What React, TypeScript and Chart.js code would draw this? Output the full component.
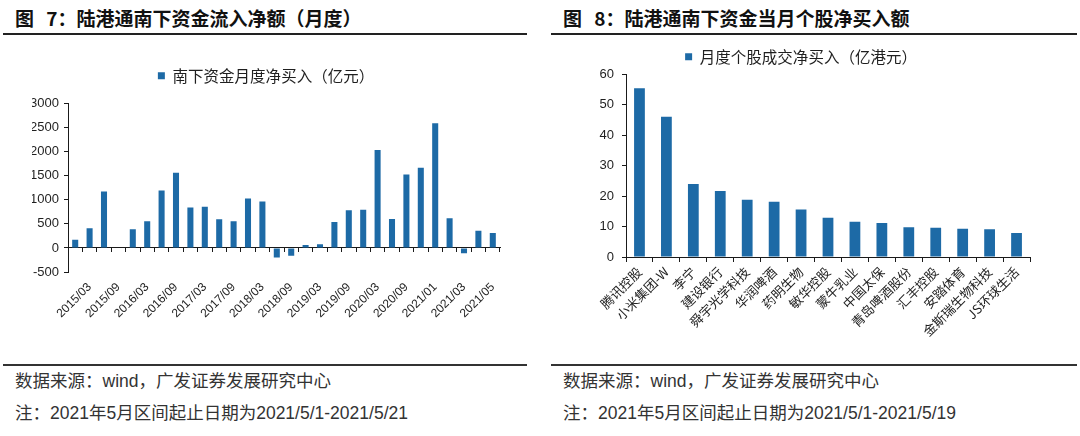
import React, { useEffect, useRef } from 'react';
import { Chart, registerables } from 'chart.js';

Chart.register(...registerables);

// ---------- data ----------
const flowPeriods = [
  '2014/12', '2015/03', '2015/06', '2015/09', '2015/12', '2016/03', '2016/06', '2016/09',
  '2016/12', '2017/03', '2017/06', '2017/09', '2017/12', '2018/03', '2018/06', '2018/09',
  '2018/12', '2019/03', '2019/06', '2019/09', '2019/12', '2020/03', '2020/06', '2020/09',
  '2020/12', '2021/01', '2021/02', '2021/03', '2021/04', '2021/05',
];
const flowValues = [
  171, 411, 1171, 0, 390, 555, 1192, 1562,
  842, 856, 596, 555, 1027, 966, -199, -164,
  62, 75, 541, 781, 795, 2034, 603, 1527,
  1664, 2589, 616, -110, 356, 308,
];
const flowLegend = '南下资金月度净买入（亿元）';
const flowYTicks = [-500, 0, 500, 1000, 1500, 2000, 2500, 3000];

const stockNames = [
  '腾讯控股', '小米集团-W', '李宁', '建设银行', '舜宇光学科技', '华润啤酒', '药明生物', '敏华控股',
  '蒙牛乳业', '中国太保', '青岛啤酒股份', '汇丰控股', '安踏体育', '金斯瑞生物科技', 'JS环球生活',
];
const stockValues = [55.5, 46.1, 24.0, 21.7, 18.8, 18.2, 15.6, 12.9, 11.6, 11.2, 9.8, 9.6, 9.3, 9.1, 7.9];
const stockLegend = '月度个股成交净买入（亿港元）';
const stockYTicks = [0, 10, 20, 30, 40, 50, 60];

const title7 = '图 7：陆港通南下资金流入净额（月度）';
const title8 = '图 8：陆港通南下资金当月个股净买入额';
const sourceText = '数据来源：wind，广发证券发展研究中心';
const note7 = '注：2021年5月区间起止日期为2021/5/1-2021/5/21';
const note8 = '注：2021年5月区间起止日期为2021/5/1-2021/5/19';

// ---------- style ----------
const BLUE = '#1D6AA6';
const AXIS = '#1a1a1a';
const TEXT = '#1f1f1f';
const LATIN = "'Liberation Sans', 'Noto Sans CJK SC', sans-serif";
const CJK = "'Noto Sans CJK SC', 'Liberation Sans', sans-serif";

const legendSpacer = (extra: number) => ({
  id: 'legendSpacer',
  beforeInit(chart: any) {
    const orig = chart.legend.fit;
    chart.legend.fit = function fit() {
      orig.call(this);
      this.height += extra;
    };
  },
});

function FlowChart() {
  const ref = useRef<HTMLCanvasElement>(null);
  useEffect(() => {
    if (!ref.current) return;
    const chart = new Chart(ref.current, {
      type: 'bar',
      data: {
        labels: flowPeriods,
        datasets: [
          {
            label: flowLegend,
            data: flowValues,
            backgroundColor: BLUE,
            borderWidth: 0,
            barPercentage: 0.42,
            categoryPercentage: 1,
            xAxisID: 'x',
            yAxisID: 'y',
          },
        ],
      },
      options: {
        animation: false,
        responsive: false,
        maintainAspectRatio: false,
        layout: { padding: { left: 32, right: 50, top: 0, bottom: 0 } },
        plugins: {
          legend: {
            position: 'top',
            labels: {
              boxWidth: 7,
              boxHeight: 7,
              padding: 10,
              color: TEXT,
              font: { family: CJK, size: 15.5 },
            },
          },
          tooltip: { enabled: false },
        },
        scales: {
          x: {
            type: 'category',
            position: 'bottom',
            offset: true,
            grid: { display: false, drawTicks: false },
            border: { display: false },
            ticks: {
              autoSkip: false,
              minRotation: 45,
              maxRotation: 45,
              padding: 8,
              color: TEXT,
              font: { family: LATIN, size: 12 },
              callback: (_v: any, i: number) => (i % 2 === 1 ? flowPeriods[i] : ''),
            },
            afterFit: (s: any) => {
              s.height = 50;
            },
          },
          x0: {
            type: 'category',
            position: { y: 0 },
            offset: true,
            grid: { offset: true, drawOnChartArea: false, drawTicks: true, tickLength: 4, color: AXIS },
            border: { display: true, color: AXIS, width: 1 },
            ticks: { display: false },
          },
          y: {
            type: 'linear',
            min: flowYTicks[0],
            max: flowYTicks[flowYTicks.length - 1],
            afterBuildTicks: (s: any) => {
              s.ticks = flowYTicks.map((v) => ({ value: v }));
            },
            grid: { drawOnChartArea: false, tickLength: 4, color: AXIS },
            border: { color: AXIS, width: 1 },
            ticks: {
              padding: 5,
              color: TEXT,
              font: { family: LATIN, size: 13 },
              callback: (v: any) => String(v),
            },
            afterFit: (s: any) => {
              s.width = 36;
            },
          },
        },
      } as any,
      plugins: [legendSpacer(10)],
    });
    return () => chart.destroy();
  }, []);
  return (
    <canvas
      ref={ref}
      width={550}
      height={264}
      style={{ position: 'absolute', left: 0, top: 58, width: 550, height: 264 }}
    />
  );
}

function StockChart() {
  const ref = useRef<HTMLCanvasElement>(null);
  useEffect(() => {
    if (!ref.current) return;
    const chart = new Chart(ref.current, {
      type: 'bar',
      data: {
        labels: stockNames,
        datasets: [
          {
            label: stockLegend,
            data: stockValues,
            backgroundColor: BLUE,
            borderWidth: 0,
            barPercentage: 0.4,
            categoryPercentage: 1,
          },
        ],
      },
      options: {
        animation: false,
        responsive: false,
        maintainAspectRatio: false,
        layout: { padding: { left: 12, right: 34, top: 0, bottom: 0 } },
        plugins: {
          legend: {
            position: 'top',
            labels: {
              boxWidth: 7,
              boxHeight: 7,
              padding: 10,
              color: TEXT,
              font: { family: CJK, size: 15.5 },
            },
          },
          tooltip: { enabled: false },
        },
        scales: {
          x: {
            type: 'category',
            offset: true,
            grid: { offset: true, drawOnChartArea: false, drawTicks: true, tickLength: 5, color: AXIS },
            border: { color: AXIS, width: 1 },
            ticks: {
              autoSkip: false,
              minRotation: 45,
              maxRotation: 45,
              padding: 2,
              color: TEXT,
              font: { family: CJK, size: 13 },
            },
            afterFit: (s: any) => {
              s.height = 90;
            },
          },
          y: {
            type: 'linear',
            min: stockYTicks[0],
            max: stockYTicks[stockYTicks.length - 1],
            afterBuildTicks: (s: any) => {
              s.ticks = stockYTicks.map((v) => ({ value: v }));
            },
            grid: { drawOnChartArea: false, tickLength: 4, color: AXIS },
            border: { color: AXIS, width: 1 },
            ticks: { padding: 8, color: TEXT, font: { family: LATIN, size: 13 } },
            afterFit: (s: any) => {
              s.width = 54;
            },
          },
        },
      } as any,
    });
    return () => chart.destroy();
  }, []);
  return (
    <canvas
      ref={ref}
      width={504}
      height={308}
      style={{ position: 'absolute', left: 560, top: 39, width: 504, height: 308 }}
    />
  );
}

const titleStyle: React.CSSProperties = {
  position: 'absolute',
  top: 8,
  fontFamily: CJK,
  fontWeight: 'bold',
  fontSize: 19,
  lineHeight: '20px',
  color: '#111',
  whiteSpace: 'nowrap',
  wordSpacing: 8,
};
const footStyle: React.CSSProperties = {
  position: 'absolute',
  fontFamily: LATIN,
  fontSize: 17.5,
  lineHeight: '18px',
  color: '#333',
  whiteSpace: 'nowrap',
};

export default function App() {
  return (
    <div
      style={{
        position: 'fixed',
        left: 0,
        top: 0,
        width: 1080,
        height: 436,
        overflow: 'hidden',
        background: '#fff',
      }}
    >
      <div style={{ ...titleStyle, left: 15 }}>{title7}</div>
      <div style={{ ...titleStyle, left: 563 }}>{title8}</div>
      <div style={{ position: 'absolute', left: 3, top: 33, width: 524, height: 2, background: '#222' }} />
      <div style={{ position: 'absolute', left: 551, top: 33, width: 526, height: 2, background: '#222' }} />
      <FlowChart />
      <StockChart />
      <div style={{ position: 'absolute', left: 3, top: 364, width: 524, height: 1.5, background: '#333' }} />
      <div style={{ position: 'absolute', left: 551, top: 364, width: 526, height: 1.5, background: '#333' }} />
      <div style={{ ...footStyle, left: 15, top: 372 }}>{sourceText}</div>
      <div style={{ ...footStyle, left: 563, top: 372 }}>{sourceText}</div>
      <div style={{ ...footStyle, left: 15, top: 404 }}>{note7}</div>
      <div style={{ ...footStyle, left: 563, top: 404 }}>{note8}</div>
    </div>
  );
}
